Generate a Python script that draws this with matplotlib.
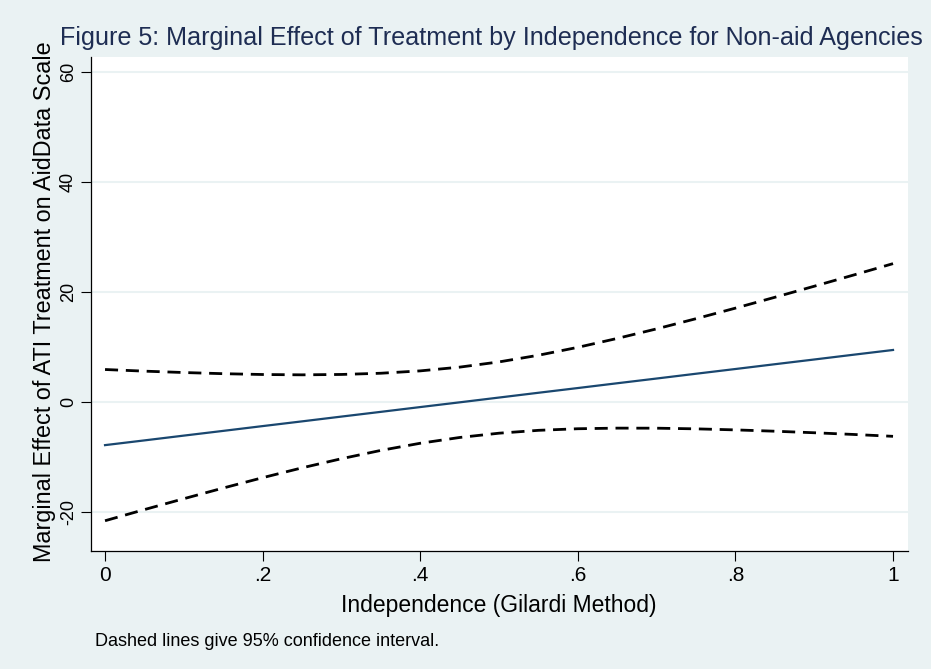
import matplotlib
matplotlib.use("Agg")
import matplotlib.pyplot as plt

# marginal effect of ATI treatment across the independence score, with 95% CI
independence = [0.00, 0.05, 0.10, 0.15, 0.20, 0.25, 0.30, 0.35, 0.40, 0.45, 0.50,
                0.55, 0.60, 0.65, 0.70, 0.75, 0.80, 0.85, 0.90, 0.95, 1.00]
marginal_effect = [-7.90, -7.04, -6.17, -5.31, -4.44, -3.58, -2.71, -1.85, -0.98, -0.12, 0.75,
                   1.62, 2.48, 3.35, 4.21, 5.08, 5.94, 6.81, 7.67, 8.54, 9.40]
ci_upper = [5.85, 5.55, 5.30, 5.09, 4.94, 4.88, 4.95, 5.17, 5.60, 6.28, 7.23,
            8.44, 9.88, 11.50, 13.24, 15.09, 17.01, 18.98, 20.99, 23.03, 25.10]
ci_lower = [-21.65, -19.62, -17.64, -15.70, -13.82, -12.03, -10.37, -8.86, -7.56, -6.51, -5.73,
            -5.21, -4.92, -4.81, -4.82, -4.94, -5.13, -5.37, -5.65, -5.96, -6.30]

x_ticks = [0, 0.2, 0.4, 0.6, 0.8, 1]
x_tick_labels = ["0", ".2", ".4", ".6", ".8", "1"]
y_ticks = [-20, 0, 20, 40, 60]
y_tick_labels = ["-20", "0", "20", "40", "60"]

BG = "#eaf2f3"
NAVY = "#1a476f"
TITLE = "#1e2d53"

plt.rcParams["font.family"] = ["Liberation Sans", "DejaVu Sans"]

W, H = 931, 669
fig = plt.figure(figsize=(W / 100, H / 100), dpi=100, facecolor=BG)
ax = fig.add_axes([91 / W, 1 - 551 / H, (908 - 91) / W, (551 - 57) / H])
ax.set_facecolor("white")

ax.plot(independence, ci_upper, color="black", lw=2, linestyle=(0, (4.7, 2.8)))
ax.plot(independence, ci_lower, color="black", lw=2, linestyle=(0, (4.7, 2.8)))
ax.plot(independence, marginal_effect, color=NAVY, lw=1.6)

ax.set_xlim(-0.0178, 1.019)
ax.set_ylim(-27.15, 62.67)

ax.set_xticks(x_ticks)
ax.set_xticklabels(x_tick_labels)
ax.set_yticks(y_ticks)
ax.set_yticklabels(y_tick_labels)
ax.grid(axis="y", color=BG, lw=1.5)
ax.set_axisbelow(True)

for side in ["top", "right"]:
    ax.spines[side].set_visible(False)
for side in ["left", "bottom"]:
    ax.spines[side].set_linewidth(0.9)

ax.tick_params(axis="both", direction="out", length=7, width=0.8)
ax.tick_params(axis="x", labelsize=15, pad=4)
ax.tick_params(axis="y", labelsize=13, labelrotation=90, pad=3)
for lab in ax.get_yticklabels():
    lab.set_va("center")

fig.text(60 / W, 1 - 45 / H, "Figure 5: Marginal Effect of Treatment by Independence for Non-aid Agencies",
         fontsize=18.1, color=TITLE, ha="left", va="baseline")
fig.text(45 / W, 1 - 302 / H, "Marginal Effect of ATI Treatment on AidData Scale",
         fontsize=16.8, rotation=90, ha="center", va="center")
fig.text(499 / W, 1 - 612 / H, "Independence (Gilardi Method)", fontsize=16.5, ha="center", va="baseline")
fig.text(95 / W, 1 - 646 / H, "Dashed lines give 95% confidence interval.", fontsize=13,
         ha="left", va="baseline")

fig.savefig("out.png", dpi=100, facecolor=BG)
